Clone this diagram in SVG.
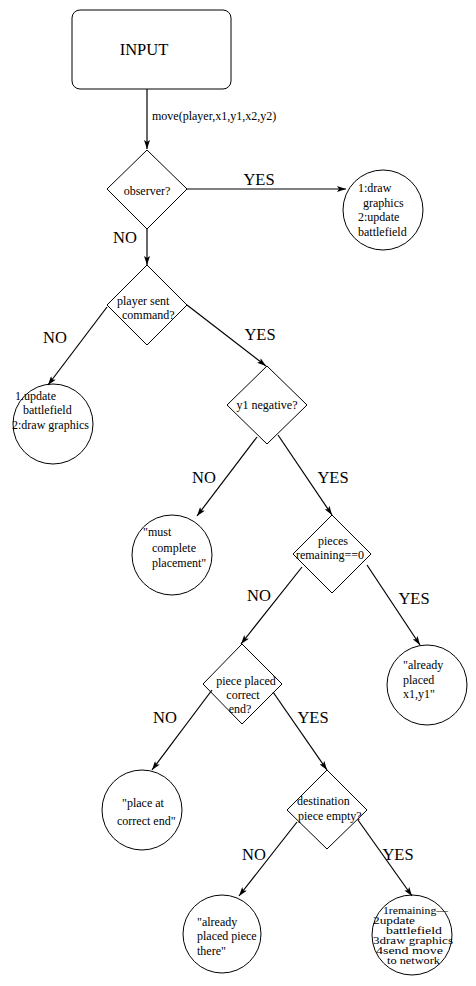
<svg xmlns="http://www.w3.org/2000/svg" width="476" height="986" viewBox="0 0 476 986">
<style>
.sh{fill:none;stroke:#000;stroke-width:1}
.t{font-family:"Liberation Serif","Times New Roman",serif;font-size:12px;fill:#000}
.s{font-family:"Liberation Serif","Times New Roman",serif;font-size:9.5px;fill:#000}
.c{text-anchor:middle}
.big{font-family:"Liberation Serif","Times New Roman",serif;font-size:16.5px;fill:#000;text-anchor:middle}
.ln{fill:none;stroke:#000;stroke-width:1.2;marker-end:url(#ah)}
</style>
<defs>
<marker id="ah" markerUnits="userSpaceOnUse" markerWidth="9" markerHeight="6" refX="9" refY="3" orient="auto">
<path d="M0,0 L9,3 L0,6 L2,3 z" fill="#000"/>
</marker>
</defs>
<rect width="476" height="986" fill="#fff"/>
<g id="input">
<rect class="sh" x="72" y="10" width="159" height="79" rx="8"/>
<text class="big" x="144" y="55">INPUT</text>
</g>
<g id="observer">
<polygon class="sh" points="147,150 187,189 147,229 107,189"/>
<text class="t c" x="147" y="195">observer?</text>
</g>
<g id="observer-yes">
<circle class="sh" cx="383" cy="210" r="40"/>
<text class="t" x="358" y="192">1:draw</text>
<text class="t" x="363" y="207">graphics</text>
<text class="t" x="358" y="221">2:update</text>
<text class="t" x="358" y="236">battlefield</text>
</g>
<g id="player-sent">
<polygon class="sh" points="147,265 187,305 147,345 107,305"/>
<text class="t" x="117" y="305">player sent</text>
<text class="t" x="122" y="319">command?</text>
</g>
<g id="player-no">
<circle class="sh" cx="53" cy="424" r="40"/>
<text class="t" x="15" y="400">1.update</text>
<text class="t" x="23" y="414">battlefield</text>
<text class="t" x="12" y="429">2:draw graphics</text>
</g>
<g id="y1-negative">
<polygon class="sh" points="267,366 307,405 267,444 227,405"/>
<text class="t c" x="267" y="409">y1 negative?</text>
</g>
<g id="must-complete">
<circle class="sh" cx="172" cy="555" r="40"/>
<text class="t" x="143" y="536">"must</text>
<text class="t" x="152" y="552">complete</text>
<text class="t" x="152" y="567">placement"</text>
</g>
<g id="pieces-remaining">
<polygon class="sh" points="332,515 371,554 332,593 293,554"/>
<text class="t c" x="333" y="545">pieces</text>
<text class="t c" x="330" y="559">remaining==0</text>
</g>
<g id="already-placed">
<circle class="sh" cx="427" cy="685" r="40"/>
<text class="t" x="403" y="669">"already</text>
<text class="t" x="403" y="684">placed</text>
<text class="t" x="403" y="698">x1,y1"</text>
</g>
<g id="piece-placed">
<polygon class="sh" points="242,644 282,684 242,724 203,684"/>
<text class="t c" x="246" y="685">piece placed</text>
<text class="t c" x="243" y="699">correct</text>
<text class="t c" x="240" y="713">end?</text>
</g>
<g id="place-at-correct">
<circle class="sh" cx="142" cy="810" r="40"/>
<text class="t" x="122" y="807">"place at</text>
<text class="t" x="117" y="825">correct end"</text>
</g>
<g id="destination">
<polygon class="sh" points="327,770 367,810 327,849 287,810"/>
<text class="t" x="297" y="805">destination</text>
<text class="t" x="298" y="820">piece empty?</text>
</g>
<g id="already-placed-piece">
<circle class="sh" cx="222" cy="934" r="39"/>
<text class="t" x="197" y="926">"already</text>
<text class="t" x="197" y="940">placed piece</text>
<text class="t" x="197" y="955">there"</text>
</g>
<g id="final">
<circle class="sh" cx="412" cy="935" r="40"/>
<text class="s" x="383" y="914" textLength="65" lengthAdjust="spacingAndGlyphs">1remaining—</text>
<text class="s" x="373" y="924" textLength="42" lengthAdjust="spacingAndGlyphs">2update</text>
<text class="s" x="386" y="934" textLength="56" lengthAdjust="spacingAndGlyphs">battlefield</text>
<text class="s" x="373" y="944" textLength="80" lengthAdjust="spacingAndGlyphs">3draw  graphics</text>
<text class="s" x="376" y="954" textLength="67" lengthAdjust="spacingAndGlyphs">4send move</text>
<text class="s" x="387" y="964" textLength="53" lengthAdjust="spacingAndGlyphs">to network</text>
</g>
<g id="connectors">
<line class="ln" x1="147" y1="89" x2="147" y2="149"/>
<line class="ln" x1="187" y1="189" x2="346" y2="189"/>
<line class="ln" x1="147" y1="229" x2="147" y2="265"/>
<line class="ln" x1="107" y1="307" x2="48" y2="385"/>
<line class="ln" x1="187" y1="305" x2="266" y2="366"/>
<line class="ln" x1="257" y1="437" x2="197" y2="516"/>
<line class="ln" x1="278" y1="435" x2="332" y2="515"/>
<line class="ln" x1="302" y1="567" x2="241" y2="644"/>
<line class="ln" x1="367" y1="565" x2="420" y2="645"/>
<line class="ln" x1="212" y1="690" x2="152" y2="770"/>
<line class="ln" x1="273" y1="692" x2="327" y2="770"/>
<line class="ln" x1="297" y1="822" x2="239" y2="896"/>
<line class="ln" x1="358" y1="820" x2="412" y2="896"/>
<text class="t" x="152" y="120">move(player,x1,y1,x2,y2)</text>
<text class="big" x="259" y="185">YES</text>
<text class="big" x="125" y="243">NO</text>
<text class="big" x="55" y="343">NO</text>
<text class="big" x="260" y="340">YES</text>
<text class="big" x="204" y="483">NO</text>
<text class="big" x="333" y="483">YES</text>
<text class="big" x="259" y="601">NO</text>
<text class="big" x="414" y="604">YES</text>
<text class="big" x="165" y="723">NO</text>
<text class="big" x="313" y="723">YES</text>
<text class="big" x="254" y="860">NO</text>
<text class="big" x="398" y="860">YES</text>
</g>
</svg>
